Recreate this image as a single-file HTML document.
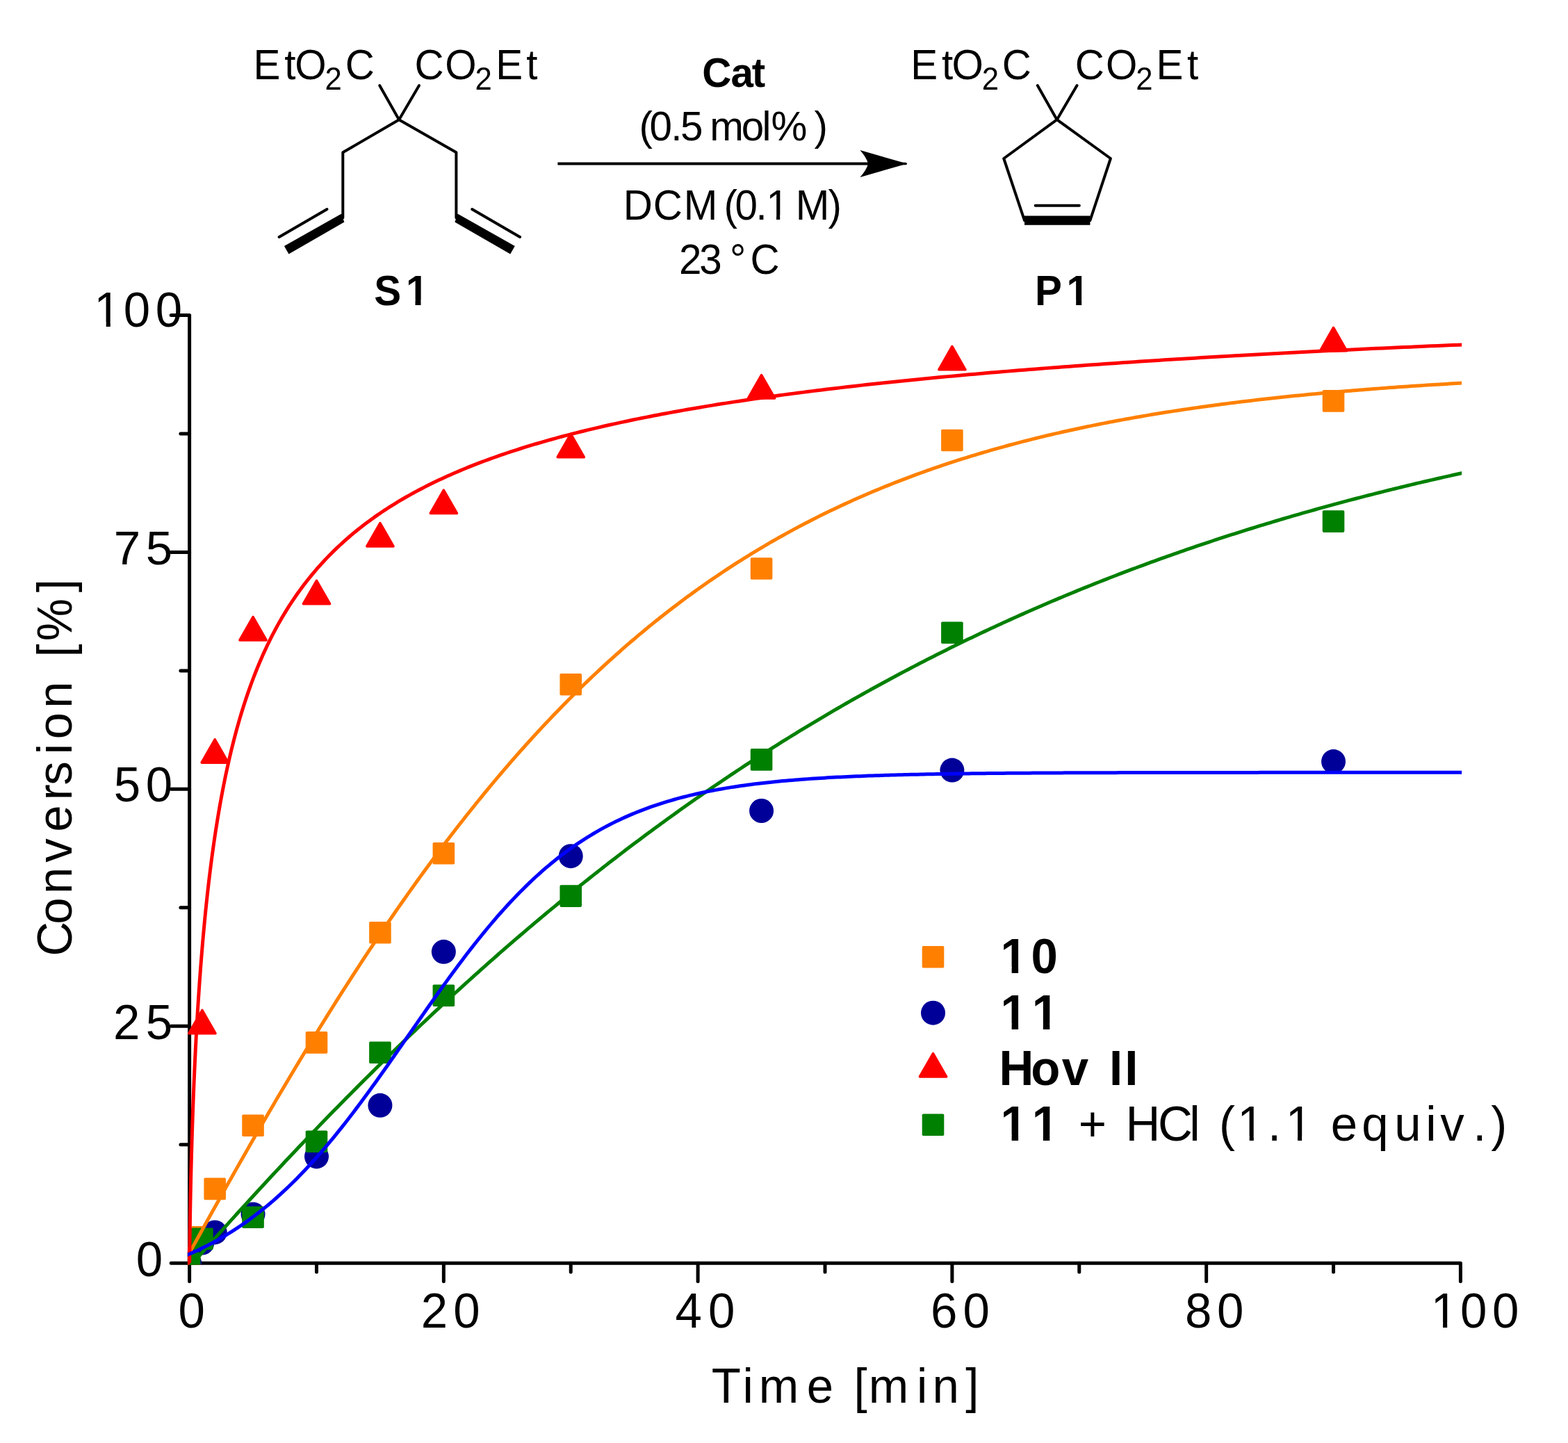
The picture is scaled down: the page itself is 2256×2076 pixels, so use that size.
<!DOCTYPE html>
<html lang="en"><head><meta charset="utf-8"><title>RCM conversion plot</title>
<style>html,body{margin:0;padding:0;background:#fff;overflow:hidden}svg{display:block}</style></head>
<body>
<svg width="2256" height="2076" viewBox="0 0 2256 2076">
<rect width="2256" height="2076" fill="#fff"/>
<defs><clipPath id="c0"><path clip-rule="evenodd" d="M-9000 -9000H9000V9000H-9000ZM1105.32 -5.66H1117.04V3H1105.32ZM1122.2 -5.66H1133.47V3H1122.2Z"/></clipPath><clipPath id="c1"><path clip-rule="evenodd" d="M-9000 -9000H9000V9000H-9000ZM586.06 -7.25H597.5V3H586.06ZM605.5 -7.25H616.2V3H605.5Z"/></clipPath><clipPath id="c2"><path clip-rule="evenodd" d="M-9000 -9000H9000V9000H-9000ZM1536.76 -7.25H1548.2V3H1536.76ZM1556.2 -7.25H1566.9V3H1556.2Z"/></clipPath><clipPath id="c3"><path clip-rule="evenodd" d="M-9000 -9000H9000V9000H-9000ZM139.11 -6.45H152.7V3H139.11ZM158.8 -6.45H171.86V3H158.8Z"/></clipPath><clipPath id="c4"><path clip-rule="evenodd" d="M-9000 -9000H9000V9000H-9000ZM2062.51 -6.45H2076.1V3H2062.51ZM2082.2 -6.45H2095.26V3H2082.2Z"/></clipPath><clipPath id="c5"><path clip-rule="evenodd" d="M-9000 -9000H9000V9000H-9000ZM1442.37 -8.34H1455.63V3H1442.37ZM1465.1 -8.34H1477.48V3H1465.1Z"/></clipPath><clipPath id="c6"><path clip-rule="evenodd" d="M-9000 -9000H9000V9000H-9000ZM1442.37 -8.34H1455.63V3H1442.37ZM1465.1 -8.34H1477.48V3H1465.1ZM1487.57 -8.34H1500.83V3H1487.57ZM1510.3 -8.34H1522.68V3H1510.3Z"/></clipPath><clipPath id="c7"><path clip-rule="evenodd" d="M-9000 -9000H9000V9000H-9000ZM1442.37 -8.34H1455.63V3H1442.37ZM1465.1 -8.34H1477.48V3H1465.1ZM1487.57 -8.34H1500.83V3H1487.57ZM1510.3 -8.34H1522.68V3H1510.3ZM1784.11 -6.45H1797.7V3H1784.11ZM1803.8 -6.45H1816.86V3H1803.8ZM1853.41 -6.45H1867V3H1853.41ZM1873.1 -6.45H1886.16V3H1873.1Z"/></clipPath></defs>
<g fill="none" stroke="#000" stroke-width="4" stroke-linecap="round" stroke-linejoin="round">
<polyline points="546.2,123 574.1,172.2 603,123" />
<polyline points="493.3,313.3 493.3,219.3 574.1,172.2 656.4,219.3 656.4,313.3" />
<polygon points="491.3,307.6 408.92,354.07 415.48,365.53 495.3,319.6" fill="#000" stroke="none"/>
<polygon points="658.4,307.6 740.78,354.07 734.22,365.53 654.4,319.6" fill="#000" stroke="none"/>
<line x1="470.5" y1="301.1" x2="401.6" y2="340.9" stroke-width="4" stroke-linecap="round"/>
<line x1="679.2" y1="301.1" x2="748.1" y2="340.9" stroke-width="4" stroke-linecap="round"/>
<polyline points="1492.8,123 1520.7,172.2 1549.5,123" />
<polyline points="1474,317.1 1444.2,228 1520.7,172.2 1597.9,228 1568.4,317.1" />
<polygon points="1474,323.7 1568.4,323.7 1568.4,310.5 1474,310.5" fill="#000" stroke="none"/>
<line x1="1489.7" y1="295.7" x2="1552.8" y2="295.7" stroke-width="4" stroke-linecap="round"/>
<line x1="802.4" y1="235.5" x2="1290" y2="235.5" stroke-width="4.1" stroke-linecap="butt"/>
<line x1="1285" y1="235.5" x2="1303" y2="235.5" stroke-width="3.7" stroke-linecap="round"/>
<path d="M1305.2 235.5 L1237.4 216.0 Q1247.2 227.2 1249.0 235.5 Q1247.2 243.8 1237.4 255.0 Z" fill="#000" stroke="none"/>
</g>
<g font-family='"Liberation Sans", sans-serif' fill="#000" style="white-space:pre">
<text transform="translate(0 114.4) scale(1 1.04)" x="364.51 409.32 424.33 467.58 496.72" y="0 0 0 13.65 0" font-size="58.33">EtO<tspan font-size="43.75">2</tspan>C</text>
<text transform="translate(0 114.4) scale(1 1.04)" x="596.57 640.33 683.63 713.21 757.22" y="0 0 13.65 0 0" font-size="58.33">CO<tspan font-size="43.75">2</tspan>Et</text>
<text transform="translate(0 114.4) scale(1 1.04)" x="1310.31 1354.97 1369.53 1412.78 1441.77" y="0 0 0 13.65 0" font-size="58.33">EtO<tspan font-size="43.75">2</tspan>C</text>
<text transform="translate(0 114.4) scale(1 1.04)" x="1546.82 1590.93 1634.38 1663.46 1708.12" y="0 0 13.65 0 0" font-size="58.33">CO<tspan font-size="43.75">2</tspan>Et</text>
<text transform="translate(0 124.7) scale(1 1.02)" x="1010.24 1051.49 1081.64" y="0" font-size="58.33" font-weight="bold">Cat</text>
<text transform="translate(0 201.7) scale(1 1.02)" x="919.5 934.58 965.17 979.09 1011.53 1021.34 1066.78 1096.46 1109.62 1161.48 1171.53" y="0" font-size="58.33">(0.5 mol% )</text>
<text transform="translate(0 315.7) scale(1 1.04)" x="896.69 939.82 983.71 1032.29 1041.4 1057.43 1087.57 1102.38 1134.82 1144.76 1191.63" y="0" font-size="58.33" clip-path="url(#c0)">DCM (0.1 M)</text>
<text transform="translate(0 394.4) scale(1 1.04)" x="977.08 1006.15 1038.59 1050 1079.57" y="0" font-size="58.33">23 °C</text>
<text transform="translate(0 439.2) scale(1 1.04)" x="538.15 583.88" y="0" font-size="58.33" font-weight="bold" clip-path="url(#c1)">S1</text>
<text transform="translate(0 439) scale(1 1.04)" x="1489.04 1534.58" y="0" font-size="58.33" font-weight="bold" clip-path="url(#c2)">P1</text>
<text transform="translate(0 470) scale(1 1.025)" x="135.35 177.66 223.71" y="0" font-size="69" clip-path="url(#c3)">100</text>
<text transform="translate(0 811.7) scale(1 1.0)" x="163.78 209.78" y="0" font-size="69">75</text>
<text transform="translate(0 1153.2) scale(1 1.02)" x="163.88 209.86" y="0" font-size="69">50</text>
<text transform="translate(0 1494.9) scale(1 1.01)" x="163.01 209.78" y="0" font-size="69">25</text>
<text transform="translate(0 1836.1) scale(1 1.03)" x="195.76" y="0" font-size="69">0</text>
<text transform="translate(0 1909.8) scale(1 1.03)" x="256.51" y="0" font-size="69">0</text>
<text transform="translate(0 1909.8) scale(1 1.02)" x="605.76 652.36" y="0" font-size="69">20</text>
<text transform="translate(0 1909.8) scale(1 1.02)" x="971.48 1019.01" y="0" font-size="69">40</text>
<text transform="translate(0 1909.8) scale(1 1.03)" x="1339.08 1385.46" y="0" font-size="69">60</text>
<text transform="translate(0 1909.8) scale(1 1.03)" x="1705.11 1751.11" y="0" font-size="69">80</text>
<text transform="translate(0 1909.8) scale(1 1.025)" x="2058.75 2100.96 2147.11" y="0" font-size="69" clip-path="url(#c4)">100</text>
<text transform="translate(0 2018.1) scale(1 1.015)" x="1023.69 1068.6 1091.69 1160.88 1199.25 1228.52 1249.69 1319.1 1341.41 1389.2" y="0" font-size="69">Time [min]</text>
<text transform="translate(103.2 0) rotate(-90) scale(1 1.015)" x="-1375.65 -1329.84 -1286.04 -1240.85 -1196.82 -1151.36 -1129.81 -1085.35 -1063.44 -1018.74 -980.36 -945.63 -922.33 -852.35" y="0" font-size="69">Conversion [%]</text>
<text transform="translate(0 1399.6) scale(1 1.015)" x="1439.53 1483.41" y="0" font-size="69" font-weight="bold" clip-path="url(#c5)">10</text>
<text transform="translate(0 1480.7) scale(1 1.015)" x="1439.53 1484.73" y="0" font-size="69" font-weight="bold" clip-path="url(#c6)">11</text>
<text transform="translate(0 1561.1) scale(1 1.015)" x="1437.45 1483.23 1527.78 1566.15 1595.96 1618.21" y="0" font-size="69" font-weight="bold">Hov II</text>
<text transform="translate(0 1641.3) scale(1 1.015)" x="1439.53 1484.73 1523.1 1551.82 1592.11 1619.42 1665.95 1711.17 1726.5 1753.97 1780.35 1824.01 1849.65 1888.03 1914.88 1959.17 2006.21 2051.35 2072.2 2119.16 2145.15" y="0" font-size="69" font-weight="bold" clip-path="url(#c7)">11<tspan font-weight="normal"> + HCl (1.1 equiv.)</tspan></text>
</g>
<g fill="none" stroke="#000" stroke-width="5" stroke-linecap="round" stroke-linejoin="round">
<polyline points="246.2,453.5 272.6,453.5 272.6,1843.6"/>
<polyline points="246.2,1817.2 2101.4,1817.2 2101.4,1843.6"/>
<line x1="246.2" y1="1476.28" x2="272.6" y2="1476.28"/>
<line x1="246.2" y1="1135.35" x2="272.6" y2="1135.35"/>
<line x1="246.2" y1="794.43" x2="272.6" y2="794.43"/>
<line x1="259.9" y1="1646.74" x2="272.6" y2="1646.74"/>
<line x1="259.9" y1="1305.81" x2="272.6" y2="1305.81"/>
<line x1="259.9" y1="964.89" x2="272.6" y2="964.89"/>
<line x1="259.9" y1="623.96" x2="272.6" y2="623.96"/>
<line x1="638.36" y1="1817.2" x2="638.36" y2="1843.6"/>
<line x1="1004.12" y1="1817.2" x2="1004.12" y2="1843.6"/>
<line x1="1369.88" y1="1817.2" x2="1369.88" y2="1843.6"/>
<line x1="1735.64" y1="1817.2" x2="1735.64" y2="1843.6"/>
<line x1="455.48" y1="1817.2" x2="455.48" y2="1829.9"/>
<line x1="821.24" y1="1817.2" x2="821.24" y2="1829.9"/>
<line x1="1187" y1="1817.2" x2="1187" y2="1829.9"/>
<line x1="1552.76" y1="1817.2" x2="1552.76" y2="1829.9"/>
<line x1="1918.52" y1="1817.2" x2="1918.52" y2="1829.9"/>
</g>
<defs><clipPath id="plot"><rect x="269.9" y="0" width="1833.2" height="1819.7"/></clipPath></defs>
<g clip-path="url(#plot)">
<rect x="256.8" y="1801.4" width="31.6" height="31.6" rx="1.8" fill="#ff8000"/>
<rect x="275.09" y="1764" width="31.6" height="31.6" rx="1.8" fill="#ff8000"/>
<rect x="293.38" y="1694.6" width="31.6" height="31.6" rx="1.8" fill="#ff8000"/>
<rect x="348.24" y="1603.4" width="31.6" height="31.6" rx="1.8" fill="#ff8000"/>
<rect x="439.68" y="1484.1" width="31.6" height="31.6" rx="1.8" fill="#ff8000"/>
<rect x="531.12" y="1326" width="31.6" height="31.6" rx="1.8" fill="#ff8000"/>
<rect x="622.56" y="1211.9" width="31.6" height="31.6" rx="1.8" fill="#ff8000"/>
<rect x="805.44" y="968.9" width="31.6" height="31.6" rx="1.8" fill="#ff8000"/>
<rect x="1079.76" y="802.2" width="31.6" height="31.6" rx="1.8" fill="#ff8000"/>
<rect x="1354.08" y="617.7" width="31.6" height="31.6" rx="1.8" fill="#ff8000"/>
<rect x="1902.72" y="561.1" width="31.6" height="31.6" rx="1.8" fill="#ff8000"/>
<circle cx="272.6" cy="1817.2" r="17.5" fill="#000099"/>
<circle cx="290.89" cy="1788.1" r="17.5" fill="#000099"/>
<circle cx="309.18" cy="1772.9" r="17.5" fill="#000099"/>
<circle cx="364.04" cy="1746.9" r="17.5" fill="#000099"/>
<circle cx="455.48" cy="1663.9" r="17.5" fill="#000099"/>
<circle cx="546.92" cy="1590.3" r="17.5" fill="#000099"/>
<circle cx="638.36" cy="1369.3" r="17.5" fill="#000099"/>
<circle cx="821.24" cy="1231.7" r="17.5" fill="#000099"/>
<circle cx="1095.56" cy="1166.5" r="17.5" fill="#000099"/>
<circle cx="1369.88" cy="1108.1" r="17.5" fill="#000099"/>
<circle cx="1918.52" cy="1095.6" r="17.5" fill="#000099"/>
<polygon points="272.6,1794.4 291.65,1827.7 253.55,1827.7" fill="#ff0000" stroke="#ff0000" stroke-width="3.6" stroke-linejoin="round"/>
<polygon points="290.89,1453.4 309.94,1486.7 271.84,1486.7" fill="#ff0000" stroke="#ff0000" stroke-width="3.6" stroke-linejoin="round"/>
<polygon points="309.18,1063.8 328.23,1097.1 290.13,1097.1" fill="#ff0000" stroke="#ff0000" stroke-width="3.6" stroke-linejoin="round"/>
<polygon points="364.04,887.6 383.09,920.9 344.99,920.9" fill="#ff0000" stroke="#ff0000" stroke-width="3.6" stroke-linejoin="round"/>
<polygon points="455.48,835.4 474.53,868.7 436.43,868.7" fill="#ff0000" stroke="#ff0000" stroke-width="3.6" stroke-linejoin="round"/>
<polygon points="546.92,752.6 565.97,785.9 527.87,785.9" fill="#ff0000" stroke="#ff0000" stroke-width="3.6" stroke-linejoin="round"/>
<polygon points="638.36,705.2 657.41,738.5 619.31,738.5" fill="#ff0000" stroke="#ff0000" stroke-width="3.6" stroke-linejoin="round"/>
<polygon points="821.24,624.3 840.29,657.6 802.19,657.6" fill="#ff0000" stroke="#ff0000" stroke-width="3.6" stroke-linejoin="round"/>
<polygon points="1095.56,539.7 1114.61,573 1076.51,573" fill="#ff0000" stroke="#ff0000" stroke-width="3.6" stroke-linejoin="round"/>
<polygon points="1369.88,498.5 1388.93,531.8 1350.83,531.8" fill="#ff0000" stroke="#ff0000" stroke-width="3.6" stroke-linejoin="round"/>
<polygon points="1918.52,471.5 1937.57,504.8 1899.47,504.8" fill="#ff0000" stroke="#ff0000" stroke-width="3.6" stroke-linejoin="round"/>
<rect x="256.8" y="1801.4" width="31.6" height="31.6" rx="1.8" fill="#008000"/>
<rect x="275.09" y="1766.5" width="31.6" height="31.6" rx="1.8" fill="#008000"/>
<rect x="348.24" y="1735.4" width="31.6" height="31.6" rx="1.8" fill="#008000"/>
<rect x="439.68" y="1626.4" width="31.6" height="31.6" rx="1.8" fill="#008000"/>
<rect x="531.12" y="1498.4" width="31.6" height="31.6" rx="1.8" fill="#008000"/>
<rect x="622.56" y="1416.5" width="31.6" height="31.6" rx="1.8" fill="#008000"/>
<rect x="805.44" y="1273.3" width="31.6" height="31.6" rx="1.8" fill="#008000"/>
<rect x="1079.76" y="1077.1" width="31.6" height="31.6" rx="1.8" fill="#008000"/>
<rect x="1354.08" y="894.4" width="31.6" height="31.6" rx="1.8" fill="#008000"/>
<rect x="1902.72" y="734.3" width="31.6" height="31.6" rx="1.8" fill="#008000"/>
<path d="M268.03 1810.87 L272.64 1802.49 L277.25 1794.12 L281.87 1785.77 L286.48 1777.43 L291.09 1769.1 L295.71 1760.79 L300.32 1752.5 L304.93 1744.22 L309.55 1735.96 L314.16 1727.71 L318.77 1719.49 L323.39 1711.28 L328 1703.09 L332.61 1694.92 L337.23 1686.77 L341.84 1678.64 L346.45 1670.53 L351.07 1662.44 L355.68 1654.37 L360.29 1646.33 L364.91 1638.3 L369.52 1630.3 L374.13 1622.33 L378.75 1614.38 L383.36 1606.45 L387.97 1598.54 L392.59 1590.67 L397.2 1582.81 L401.81 1574.99 L406.43 1567.18 L411.04 1559.41 L415.65 1551.66 L420.27 1543.94 L424.88 1536.25 L429.49 1528.59 L434.11 1520.95 L438.72 1513.34 L443.33 1505.77 L447.94 1498.22 L452.56 1490.7 L457.17 1483.21 L461.78 1475.75 L466.4 1468.33 L471.01 1460.93 L475.62 1453.57 L480.24 1446.23 L484.85 1438.93 L489.46 1431.67 L494.08 1424.43 L498.69 1417.23 L503.3 1410.06 L507.92 1402.92 L512.53 1395.82 L517.14 1388.75 L521.76 1381.71 L526.37 1374.71 L530.98 1367.74 L535.6 1360.81 L540.21 1353.91 L544.82 1347.05 L549.44 1340.22 L554.05 1333.43 L558.66 1326.68 L563.28 1319.96 L567.89 1313.27 L572.5 1306.62 L577.12 1300.01 L581.73 1293.44 L586.34 1286.9 L590.96 1280.39 L595.57 1273.93 L600.18 1267.5 L604.8 1261.11 L609.41 1254.75 L614.02 1248.44 L618.64 1242.16 L623.25 1235.91 L627.86 1229.71 L632.47 1223.54 L637.09 1217.41 L641.7 1211.32 L646.31 1205.26 L650.93 1199.25 L655.54 1193.27 L660.15 1187.33 L664.77 1181.42 L669.38 1175.56 L673.99 1169.73 L678.61 1163.94 L683.22 1158.19 L687.83 1152.48 L692.45 1146.8 L697.06 1141.16 L701.67 1135.57 L706.29 1130 L710.9 1124.48 L715.51 1119 L720.13 1113.55 L724.74 1108.14 L729.35 1102.77 L733.97 1097.43 L738.58 1092.14 L743.19 1086.88 L747.81 1081.66 L752.42 1076.48 L757.03 1071.33 L761.65 1066.22 L766.26 1061.15 L770.87 1056.12 L775.49 1051.12 L780.1 1046.17 L784.71 1041.24 L789.33 1036.36 L793.94 1031.51 L798.55 1026.7 L803.17 1021.93 L807.78 1017.19 L812.39 1012.49 L817 1007.82 L821.62 1003.2 L826.23 998.6 L830.84 994.05 L835.46 989.53 L840.07 985.04 L844.68 980.6 L849.3 976.18 L853.91 971.81 L858.52 967.46 L863.14 963.16 L867.75 958.89 L872.36 954.65 L876.98 950.45 L881.59 946.28 L886.2 942.15 L890.82 938.05 L895.43 933.98 L900.04 929.95 L904.66 925.95 L909.27 921.99 L913.88 918.06 L918.5 914.16 L923.11 910.3 L927.72 906.47 L932.34 902.67 L936.95 898.91 L941.56 895.17 L946.18 891.47 L950.79 887.81 L955.4 884.17 L960.02 880.57 L964.63 876.99 L969.24 873.45 L973.86 869.94 L978.47 866.46 L983.08 863.02 L987.7 859.6 L992.31 856.21 L996.92 852.86 L1001.53 849.53 L1006.15 846.23 L1010.76 842.97 L1015.37 839.73 L1019.99 836.52 L1024.6 833.35 L1029.21 830.2 L1033.83 827.08 L1038.44 823.99 L1043.05 820.92 L1047.67 817.89 L1052.28 814.88 L1056.89 811.9 L1061.51 808.95 L1066.12 806.03 L1070.73 803.13 L1075.35 800.26 L1079.96 797.42 L1084.57 794.61 L1089.19 791.82 L1093.8 789.06 L1098.41 786.32 L1103.03 783.61 L1107.64 780.93 L1112.25 778.27 L1116.87 775.64 L1121.48 773.03 L1126.09 770.45 L1130.71 767.89 L1135.32 765.35 L1139.93 762.85 L1144.55 760.36 L1149.16 757.9 L1153.77 755.47 L1158.39 753.05 L1163 750.66 L1167.61 748.3 L1172.23 745.96 L1176.84 743.64 L1181.45 741.34 L1186.06 739.07 L1190.68 736.81 L1195.29 734.59 L1199.9 732.38 L1204.52 730.19 L1209.13 728.03 L1213.74 725.89 L1218.36 723.77 L1222.97 721.67 L1227.58 719.59 L1232.2 717.53 L1236.81 715.5 L1241.42 713.48 L1246.04 711.48 L1250.65 709.51 L1255.26 707.55 L1259.88 705.61 L1264.49 703.7 L1269.1 701.8 L1273.72 699.92 L1278.33 698.06 L1282.94 696.23 L1287.56 694.4 L1292.17 692.6 L1296.78 690.82 L1301.4 689.05 L1306.01 687.31 L1310.62 685.58 L1315.24 683.86 L1319.85 682.17 L1324.46 680.49 L1329.08 678.83 L1333.69 677.19 L1338.3 675.57 L1342.92 673.96 L1347.53 672.37 L1352.14 670.79 L1356.76 669.23 L1361.37 667.69 L1365.98 666.16 L1370.6 664.65 L1375.21 663.16 L1379.82 661.68 L1384.43 660.22 L1389.05 658.77 L1393.66 657.34 L1398.27 655.92 L1402.89 654.52 L1407.5 653.13 L1412.11 651.75 L1416.73 650.4 L1421.34 649.05 L1425.95 647.72 L1430.57 646.4 L1435.18 645.1 L1439.79 643.81 L1444.41 642.54 L1449.02 641.28 L1453.63 640.03 L1458.25 638.79 L1462.86 637.57 L1467.47 636.36 L1472.09 635.17 L1476.7 633.99 L1481.31 632.82 L1485.93 631.66 L1490.54 630.51 L1495.15 629.38 L1499.77 628.26 L1504.38 627.15 L1508.99 626.05 L1513.61 624.97 L1518.22 623.89 L1522.83 622.83 L1527.45 621.78 L1532.06 620.74 L1536.67 619.72 L1541.29 618.7 L1545.9 617.69 L1550.51 616.7 L1555.13 615.71 L1559.74 614.74 L1564.35 613.78 L1568.96 612.83 L1573.58 611.88 L1578.19 610.95 L1582.8 610.03 L1587.42 609.12 L1592.03 608.22 L1596.64 607.32 L1601.26 606.44 L1605.87 605.57 L1610.48 604.71 L1615.1 603.85 L1619.71 603.01 L1624.32 602.17 L1628.94 601.35 L1633.55 600.53 L1638.16 599.72 L1642.78 598.92 L1647.39 598.13 L1652 597.35 L1656.62 596.58 L1661.23 595.81 L1665.84 595.06 L1670.46 594.31 L1675.07 593.57 L1679.68 592.84 L1684.3 592.12 L1688.91 591.4 L1693.52 590.69 L1698.14 589.99 L1702.75 589.3 L1707.36 588.62 L1711.98 587.94 L1716.59 587.27 L1721.2 586.61 L1725.82 585.95 L1730.43 585.31 L1735.04 584.67 L1739.66 584.03 L1744.27 583.41 L1748.88 582.79 L1753.49 582.17 L1758.11 581.57 L1762.72 580.97 L1767.33 580.38 L1771.95 579.79 L1776.56 579.21 L1781.17 578.64 L1785.79 578.07 L1790.4 577.51 L1795.01 576.96 L1799.63 576.41 L1804.24 575.87 L1808.85 575.34 L1813.47 574.81 L1818.08 574.28 L1822.69 573.76 L1827.31 573.25 L1831.92 572.75 L1836.53 572.25 L1841.15 571.75 L1845.76 571.26 L1850.37 570.78 L1854.99 570.3 L1859.6 569.83 L1864.21 569.36 L1868.83 568.89 L1873.44 568.44 L1878.05 567.98 L1882.67 567.54 L1887.28 567.1 L1891.89 566.66 L1896.51 566.23 L1901.12 565.8 L1905.73 565.38 L1910.35 564.96 L1914.96 564.54 L1919.57 564.13 L1924.19 563.73 L1928.8 563.33 L1933.41 562.94 L1938.02 562.55 L1942.64 562.16 L1947.25 561.78 L1951.86 561.4 L1956.48 561.03 L1961.09 560.66 L1965.7 560.29 L1970.32 559.93 L1974.93 559.57 L1979.54 559.22 L1984.16 558.87 L1988.77 558.53 L1993.38 558.19 L1998 557.85 L2002.61 557.52 L2007.22 557.19 L2011.84 556.86 L2016.45 556.54 L2021.06 556.22 L2025.68 555.91 L2030.29 555.59 L2034.9 555.29 L2039.52 554.98 L2044.13 554.68 L2048.74 554.38 L2053.36 554.09 L2057.97 553.8 L2062.58 553.51 L2067.2 553.23 L2071.81 552.95 L2076.42 552.67 L2081.04 552.39 L2085.65 552.12 L2090.26 551.85 L2094.88 551.59 L2099.49 551.32 L2104.1 551.06 L2108.72 550.81" fill="none" stroke="#ff8000" stroke-width="5" stroke-linejoin="round" stroke-linecap="butt"/>
<path d="M272.6 1836.62 L272.6 1834.57 L272.62 1830.85 L272.64 1826.07 L272.67 1820.45 L272.72 1814.14 L272.78 1807.23 L272.85 1799.79 L272.94 1791.89 L273.04 1783.58 L273.15 1774.9 L273.28 1765.9 L273.42 1756.6 L273.58 1747.03 L273.76 1737.24 L273.95 1727.23 L274.15 1717.05 L274.37 1706.7 L274.61 1696.2 L274.86 1685.59 L275.14 1674.87 L275.42 1664.06 L275.73 1653.17 L276.05 1642.23 L276.39 1631.24 L276.74 1620.21 L277.12 1609.16 L277.51 1598.09 L277.92 1587.02 L278.34 1575.96 L278.79 1564.91 L279.25 1553.88 L279.73 1542.89 L280.23 1531.92 L280.75 1521 L281.28 1510.13 L281.84 1499.31 L282.41 1488.54 L283.01 1477.84 L283.62 1467.21 L284.25 1456.65 L284.9 1446.16 L285.57 1435.75 L286.26 1425.41 L286.97 1415.16 L287.69 1405 L288.44 1394.92 L289.21 1384.93 L290 1375.03 L290.81 1365.22 L291.63 1355.51 L292.48 1345.89 L293.35 1336.36 L294.24 1326.93 L295.14 1317.6 L296.07 1308.37 L297.02 1299.23 L297.99 1290.19 L298.98 1281.25 L299.99 1272.4 L301.02 1263.66 L302.08 1255.01 L303.15 1246.46 L304.25 1238.01 L305.36 1229.65 L306.5 1221.39 L307.66 1213.23 L308.83 1205.16 L310.04 1197.19 L311.26 1189.31 L312.5 1181.53 L313.76 1173.84 L315.05 1166.24 L316.36 1158.74 L317.69 1151.32 L319.04 1144 L320.41 1136.76 L321.81 1129.61 L323.23 1122.55 L324.66 1115.58 L326.13 1108.7 L327.61 1101.89 L329.11 1095.18 L330.64 1088.54 L332.19 1081.99 L333.76 1075.52 L335.36 1069.13 L336.97 1062.81 L338.61 1056.58 L340.27 1050.42 L341.96 1044.34 L343.66 1038.34 L345.39 1032.41 L347.15 1026.55 L348.92 1020.77 L350.72 1015.06 L352.54 1009.42 L354.38 1003.85 L356.25 998.34 L358.14 992.91 L360.05 987.54 L361.99 982.24 L363.94 977 L365.93 971.83 L367.93 966.73 L369.96 961.68 L372.01 956.7 L374.09 951.77 L376.18 946.91 L378.31 942.11 L380.45 937.36 L382.62 932.68 L384.81 928.04 L387.03 923.47 L389.27 918.95 L391.53 914.49 L393.82 910.07 L396.13 905.72 L398.46 901.41 L400.82 897.15 L403.2 892.95 L405.61 888.8 L408.04 884.69 L410.5 880.63 L412.97 876.63 L415.48 872.66 L418 868.75 L420.55 864.88 L423.13 861.05 L425.73 857.28 L428.35 853.54 L431 849.85 L433.67 846.2 L436.37 842.59 L439.09 839.02 L441.84 835.5 L444.61 832.01 L447.4 828.57 L450.22 825.16 L453.06 821.79 L455.93 818.46 L458.83 815.17 L461.74 811.92 L464.69 808.7 L467.65 805.52 L470.65 802.37 L473.66 799.26 L476.71 796.18 L479.77 793.14 L482.87 790.12 L485.98 787.15 L489.13 784.2 L492.29 781.29 L495.48 778.41 L498.7 775.56 L501.95 772.74 L505.21 769.95 L508.51 767.19 L511.82 764.47 L515.17 761.77 L518.54 759.09 L521.93 756.45 L525.35 753.84 L528.8 751.25 L532.27 748.69 L535.76 746.16 L539.28 743.65 L542.83 741.17 L546.4 738.72 L550 736.29 L553.63 733.88 L557.28 731.5 L560.95 729.15 L564.65 726.82 L568.38 724.51 L572.13 722.23 L575.91 719.97 L579.71 717.73 L583.54 715.51 L587.4 713.32 L591.28 711.15 L595.19 709 L599.13 706.87 L603.09 704.77 L607.07 702.68 L611.08 700.62 L615.12 698.57 L619.19 696.55 L623.28 694.54 L627.39 692.56 L631.54 690.59 L635.71 688.64 L639.9 686.71 L644.12 684.8 L648.37 682.91 L652.65 681.04 L656.95 679.18 L661.27 677.35 L665.63 675.53 L670.01 673.72 L674.41 671.94 L678.85 670.17 L683.31 668.41 L687.79 666.68 L692.31 664.96 L696.85 663.25 L701.41 661.56 L706.01 659.89 L710.62 658.23 L715.27 656.59 L719.94 654.96 L724.64 653.35 L729.37 651.75 L734.12 650.17 L738.9 648.6 L743.71 647.04 L748.55 645.5 L753.41 643.97 L758.3 642.46 L763.21 640.96 L768.15 639.47 L773.12 638 L778.12 636.53 L783.14 635.09 L788.19 633.65 L793.27 632.23 L798.37 630.82 L803.5 629.42 L808.66 628.03 L813.85 626.66 L819.06 625.3 L824.3 623.94 L829.57 622.61 L834.87 621.28 L840.19 619.96 L845.54 618.66 L850.92 617.36 L856.32 616.08 L861.75 614.81 L867.21 613.54 L872.7 612.29 L878.22 611.05 L883.76 609.82 L889.33 608.6 L894.92 607.39 L900.55 606.19 L906.2 605 L911.88 603.82 L917.59 602.65 L923.33 601.48 L929.09 600.33 L934.88 599.19 L940.7 598.06 L946.55 596.93 L952.42 595.82 L958.32 594.71 L964.25 593.61 L970.21 592.52 L976.2 591.44 L982.21 590.37 L988.25 589.31 L994.32 588.25 L1000.42 587.2 L1006.54 586.17 L1012.7 585.14 L1018.88 584.11 L1025.09 583.1 L1031.32 582.09 L1037.59 581.09 L1043.88 580.1 L1050.21 579.12 L1056.56 578.14 L1062.93 577.17 L1069.34 576.21 L1075.78 575.26 L1082.24 574.31 L1088.73 573.37 L1095.25 572.44 L1101.8 571.52 L1108.37 570.6 L1114.98 569.69 L1121.61 568.78 L1128.27 567.88 L1134.96 566.99 L1141.68 566.11 L1148.43 565.23 L1155.2 564.36 L1162.01 563.49 L1168.84 562.63 L1175.7 561.78 L1182.59 560.93 L1189.5 560.09 L1196.45 559.26 L1203.43 558.43 L1210.43 557.61 L1217.46 556.79 L1224.52 555.98 L1231.61 555.18 L1238.73 554.38 L1245.88 553.58 L1253.05 552.8 L1260.26 552.01 L1267.49 551.24 L1274.75 550.47 L1282.04 549.7 L1289.36 548.94 L1296.71 548.19 L1304.09 547.44 L1311.49 546.69 L1318.93 545.95 L1326.39 545.22 L1333.89 544.49 L1341.41 543.76 L1348.96 543.04 L1356.54 542.33 L1364.15 541.62 L1371.79 540.92 L1379.45 540.22 L1387.15 539.52 L1394.87 538.83 L1402.63 538.14 L1410.41 537.46 L1418.22 536.79 L1426.07 536.11 L1433.94 535.45 L1441.84 534.78 L1449.77 534.13 L1457.73 533.47 L1465.71 532.82 L1473.73 532.18 L1481.78 531.53 L1489.85 530.9 L1497.96 530.26 L1506.09 529.63 L1514.26 529.01 L1522.45 528.39 L1530.67 527.77 L1538.93 527.16 L1547.21 526.55 L1555.52 525.95 L1563.86 525.34 L1572.23 524.75 L1580.63 524.15 L1589.06 523.56 L1597.52 522.98 L1606 522.4 L1614.52 521.82 L1623.07 521.24 L1631.65 520.67 L1640.25 520.11 L1648.89 519.54 L1657.55 518.98 L1666.25 518.42 L1674.97 517.87 L1683.73 517.32 L1692.51 516.77 L1701.33 516.23 L1710.17 515.69 L1719.05 515.15 L1727.95 514.62 L1736.88 514.09 L1745.85 513.56 L1754.84 513.04 L1763.86 512.52 L1772.92 512 L1782 511.49 L1791.11 510.98 L1800.25 510.47 L1809.43 509.97 L1818.63 509.46 L1827.86 508.97 L1837.12 508.47 L1846.42 507.98 L1855.74 507.49 L1865.09 507 L1874.47 506.52 L1883.89 506.03 L1893.33 505.56 L1902.8 505.08 L1912.31 504.61 L1921.84 504.14 L1931.4 503.67 L1941 503.21 L1950.62 502.74 L1960.27 502.29 L1969.96 501.83 L1979.67 501.37 L1989.42 500.92 L1999.19 500.48 L2009 500.03 L2018.83 499.59 L2028.7 499.14 L2038.59 498.71 L2048.52 498.27 L2058.48 497.84 L2068.46 497.41 L2078.48 496.98 L2088.53 496.55 L2098.61 496.13 L2108.72 495.71" fill="none" stroke="#ff0000" stroke-width="5" stroke-linejoin="round" stroke-linecap="butt"/>
<path d="M268.03 1827.98 L272.64 1822.73 L277.25 1817.49 L281.87 1812.26 L286.48 1807.04 L291.09 1801.83 L295.71 1796.63 L300.32 1791.45 L304.93 1786.27 L309.55 1781.11 L314.16 1775.95 L318.77 1770.81 L323.39 1765.68 L328 1760.56 L332.61 1755.45 L337.23 1750.35 L341.84 1745.26 L346.45 1740.18 L351.07 1735.12 L355.68 1730.06 L360.29 1725.02 L364.91 1719.99 L369.52 1714.97 L374.13 1709.97 L378.75 1704.97 L383.36 1699.99 L387.97 1695.01 L392.59 1690.05 L397.2 1685.11 L401.81 1680.17 L406.43 1675.24 L411.04 1670.33 L415.65 1665.43 L420.27 1660.54 L424.88 1655.67 L429.49 1650.8 L434.11 1645.95 L438.72 1641.11 L443.33 1636.28 L447.94 1631.47 L452.56 1626.66 L457.17 1621.87 L461.78 1617.1 L466.4 1612.33 L471.01 1607.58 L475.62 1602.84 L480.24 1598.11 L484.85 1593.39 L489.46 1588.69 L494.08 1584 L498.69 1579.32 L503.3 1574.66 L507.92 1570.01 L512.53 1565.37 L517.14 1560.74 L521.76 1556.13 L526.37 1551.53 L530.98 1546.94 L535.6 1542.36 L540.21 1537.8 L544.82 1533.25 L549.44 1528.72 L554.05 1524.2 L558.66 1519.69 L563.28 1515.19 L567.89 1510.71 L572.5 1506.24 L577.12 1501.78 L581.73 1497.33 L586.34 1492.9 L590.96 1488.49 L595.57 1484.08 L600.18 1479.69 L604.8 1475.31 L609.41 1470.95 L614.02 1466.6 L618.64 1462.26 L623.25 1457.93 L627.86 1453.62 L632.47 1449.32 L637.09 1445.04 L641.7 1440.77 L646.31 1436.51 L650.93 1432.26 L655.54 1428.03 L660.15 1423.81 L664.77 1419.61 L669.38 1415.42 L673.99 1411.24 L678.61 1407.08 L683.22 1402.93 L687.83 1398.79 L692.45 1394.67 L697.06 1390.56 L701.67 1386.46 L706.29 1382.38 L710.9 1378.31 L715.51 1374.25 L720.13 1370.21 L724.74 1366.18 L729.35 1362.17 L733.97 1358.16 L738.58 1354.18 L743.19 1350.2 L747.81 1346.24 L752.42 1342.29 L757.03 1338.36 L761.65 1334.44 L766.26 1330.53 L770.87 1326.64 L775.49 1322.76 L780.1 1318.89 L784.71 1315.04 L789.33 1311.2 L793.94 1307.37 L798.55 1303.56 L803.17 1299.76 L807.78 1295.98 L812.39 1292.2 L817 1288.45 L821.62 1284.7 L826.23 1280.97 L830.84 1277.25 L835.46 1273.55 L840.07 1269.86 L844.68 1266.18 L849.3 1262.51 L853.91 1258.86 L858.52 1255.23 L863.14 1251.6 L867.75 1247.99 L872.36 1244.4 L876.98 1240.81 L881.59 1237.24 L886.2 1233.68 L890.82 1230.14 L895.43 1226.61 L900.04 1223.09 L904.66 1219.59 L909.27 1216.1 L913.88 1212.62 L918.5 1209.16 L923.11 1205.71 L927.72 1202.27 L932.34 1198.85 L936.95 1195.44 L941.56 1192.04 L946.18 1188.66 L950.79 1185.29 L955.4 1181.93 L960.02 1178.58 L964.63 1175.25 L969.24 1171.93 L973.86 1168.63 L978.47 1165.33 L983.08 1162.05 L987.7 1158.79 L992.31 1155.53 L996.92 1152.29 L1001.53 1149.07 L1006.15 1145.85 L1010.76 1142.65 L1015.37 1139.46 L1019.99 1136.28 L1024.6 1133.12 L1029.21 1129.97 L1033.83 1126.83 L1038.44 1123.71 L1043.05 1120.6 L1047.67 1117.5 L1052.28 1114.41 L1056.89 1111.34 L1061.51 1108.28 L1066.12 1105.23 L1070.73 1102.19 L1075.35 1099.17 L1079.96 1096.16 L1084.57 1093.16 L1089.19 1090.17 L1093.8 1087.2 L1098.41 1084.24 L1103.03 1081.29 L1107.64 1078.35 L1112.25 1075.43 L1116.87 1072.52 L1121.48 1069.62 L1126.09 1066.73 L1130.71 1063.86 L1135.32 1061 L1139.93 1058.15 L1144.55 1055.31 L1149.16 1052.48 L1153.77 1049.67 L1158.39 1046.87 L1163 1044.08 L1167.61 1041.3 L1172.23 1038.54 L1176.84 1035.79 L1181.45 1033.04 L1186.06 1030.32 L1190.68 1027.6 L1195.29 1024.89 L1199.9 1022.2 L1204.52 1019.52 L1209.13 1016.85 L1213.74 1014.19 L1218.36 1011.54 L1222.97 1008.91 L1227.58 1006.28 L1232.2 1003.67 L1236.81 1001.07 L1241.42 998.48 L1246.04 995.91 L1250.65 993.34 L1255.26 990.79 L1259.88 988.25 L1264.49 985.71 L1269.1 983.2 L1273.72 980.69 L1278.33 978.19 L1282.94 975.7 L1287.56 973.23 L1292.17 970.77 L1296.78 968.31 L1301.4 965.87 L1306.01 963.44 L1310.62 961.02 L1315.24 958.62 L1319.85 956.22 L1324.46 953.83 L1329.08 951.46 L1333.69 949.1 L1338.3 946.74 L1342.92 944.4 L1347.53 942.07 L1352.14 939.75 L1356.76 937.44 L1361.37 935.14 L1365.98 932.85 L1370.6 930.57 L1375.21 928.31 L1379.82 926.05 L1384.43 923.8 L1389.05 921.57 L1393.66 919.34 L1398.27 917.13 L1402.89 914.93 L1407.5 912.73 L1412.11 910.55 L1416.73 908.37 L1421.34 906.21 L1425.95 904.06 L1430.57 901.92 L1435.18 899.78 L1439.79 897.66 L1444.41 895.55 L1449.02 893.45 L1453.63 891.36 L1458.25 889.27 L1462.86 887.2 L1467.47 885.14 L1472.09 883.09 L1476.7 881.05 L1481.31 879.01 L1485.93 876.99 L1490.54 874.98 L1495.15 872.97 L1499.77 870.98 L1504.38 869 L1508.99 867.02 L1513.61 865.06 L1518.22 863.1 L1522.83 861.16 L1527.45 859.22 L1532.06 857.29 L1536.67 855.38 L1541.29 853.47 L1545.9 851.57 L1550.51 849.68 L1555.13 847.8 L1559.74 845.93 L1564.35 844.07 L1568.96 842.21 L1573.58 840.37 L1578.19 838.54 L1582.8 836.71 L1587.42 834.89 L1592.03 833.09 L1596.64 831.29 L1601.26 829.5 L1605.87 827.72 L1610.48 825.95 L1615.1 824.18 L1619.71 822.43 L1624.32 820.68 L1628.94 818.95 L1633.55 817.22 L1638.16 815.5 L1642.78 813.79 L1647.39 812.09 L1652 810.39 L1656.62 808.71 L1661.23 807.03 L1665.84 805.36 L1670.46 803.7 L1675.07 802.05 L1679.68 800.41 L1684.3 798.77 L1688.91 797.14 L1693.52 795.53 L1698.14 793.92 L1702.75 792.31 L1707.36 790.72 L1711.98 789.13 L1716.59 787.55 L1721.2 785.98 L1725.82 784.42 L1730.43 782.87 L1735.04 781.32 L1739.66 779.78 L1744.27 778.25 L1748.88 776.73 L1753.49 775.22 L1758.11 773.71 L1762.72 772.21 L1767.33 770.72 L1771.95 769.24 L1776.56 767.76 L1781.17 766.29 L1785.79 764.83 L1790.4 763.38 L1795.01 761.93 L1799.63 760.49 L1804.24 759.06 L1808.85 757.64 L1813.47 756.22 L1818.08 754.81 L1822.69 753.41 L1827.31 752.02 L1831.92 750.63 L1836.53 749.25 L1841.15 747.88 L1845.76 746.51 L1850.37 745.15 L1854.99 743.8 L1859.6 742.46 L1864.21 741.12 L1868.83 739.79 L1873.44 738.46 L1878.05 737.15 L1882.67 735.84 L1887.28 734.54 L1891.89 733.24 L1896.51 731.95 L1901.12 730.67 L1905.73 729.39 L1910.35 728.12 L1914.96 726.86 L1919.57 725.61 L1924.19 724.36 L1928.8 723.11 L1933.41 721.88 L1938.02 720.65 L1942.64 719.43 L1947.25 718.21 L1951.86 717 L1956.48 715.8 L1961.09 714.6 L1965.7 713.41 L1970.32 712.22 L1974.93 711.05 L1979.54 709.87 L1984.16 708.71 L1988.77 707.55 L1993.38 706.39 L1998 705.25 L2002.61 704.11 L2007.22 702.97 L2011.84 701.84 L2016.45 700.72 L2021.06 699.6 L2025.68 698.49 L2030.29 697.39 L2034.9 696.29 L2039.52 695.19 L2044.13 694.11 L2048.74 693.03 L2053.36 691.95 L2057.97 690.88 L2062.58 689.82 L2067.2 688.76 L2071.81 687.71 L2076.42 686.66 L2081.04 685.62 L2085.65 684.58 L2090.26 683.55 L2094.88 682.53 L2099.49 681.51 L2104.1 680.49 L2108.72 679.49" fill="none" stroke="#008000" stroke-width="5" stroke-linejoin="round" stroke-linecap="butt"/>
<path d="M268.03 1806.05 L272.64 1804.06 L277.25 1802.02 L281.87 1799.91 L286.48 1797.74 L291.09 1795.51 L295.71 1793.22 L300.32 1790.85 L304.93 1788.42 L309.55 1785.92 L314.16 1783.36 L318.77 1780.72 L323.39 1778 L328 1775.22 L332.61 1772.35 L337.23 1769.42 L341.84 1766.4 L346.45 1763.3 L351.07 1760.13 L355.68 1756.87 L360.29 1753.53 L364.91 1750.11 L369.52 1746.6 L374.13 1743.01 L378.75 1739.33 L383.36 1735.57 L387.97 1731.72 L392.59 1727.78 L397.2 1723.75 L401.81 1719.63 L406.43 1715.42 L411.04 1711.12 L415.65 1706.74 L420.27 1702.26 L424.88 1697.69 L429.49 1693.04 L434.11 1688.29 L438.72 1683.46 L443.33 1678.53 L447.94 1673.52 L452.56 1668.43 L457.17 1663.24 L461.78 1657.97 L466.4 1652.62 L471.01 1647.19 L475.62 1641.67 L480.24 1636.08 L484.85 1630.41 L489.46 1624.66 L494.08 1618.84 L498.69 1612.95 L503.3 1606.99 L507.92 1600.97 L512.53 1594.88 L517.14 1588.73 L521.76 1582.52 L526.37 1576.26 L530.98 1569.95 L535.6 1563.59 L540.21 1557.19 L544.82 1550.74 L549.44 1544.26 L554.05 1537.75 L558.66 1531.2 L563.28 1524.63 L567.89 1518.04 L572.5 1511.43 L577.12 1504.81 L581.73 1498.17 L586.34 1491.53 L590.96 1484.89 L595.57 1478.25 L600.18 1471.62 L604.8 1465 L609.41 1458.39 L614.02 1451.8 L618.64 1445.24 L623.25 1438.7 L627.86 1432.19 L632.47 1425.72 L637.09 1419.28 L641.7 1412.89 L646.31 1406.54 L650.93 1400.24 L655.54 1393.99 L660.15 1387.8 L664.77 1381.66 L669.38 1375.59 L673.99 1369.58 L678.61 1363.63 L683.22 1357.76 L687.83 1351.95 L692.45 1346.22 L697.06 1340.57 L701.67 1334.99 L706.29 1329.49 L710.9 1324.08 L715.51 1318.74 L720.13 1313.49 L724.74 1308.33 L729.35 1303.25 L733.97 1298.25 L738.58 1293.35 L743.19 1288.53 L747.81 1283.81 L752.42 1279.17 L757.03 1274.62 L761.65 1270.17 L766.26 1265.8 L770.87 1261.52 L775.49 1257.33 L780.1 1253.23 L784.71 1249.22 L789.33 1245.3 L793.94 1241.47 L798.55 1237.72 L803.17 1234.06 L807.78 1230.49 L812.39 1227 L817 1223.6 L821.62 1220.28 L826.23 1217.04 L830.84 1213.88 L835.46 1210.8 L840.07 1207.8 L844.68 1204.88 L849.3 1202.03 L853.91 1199.26 L858.52 1196.57 L863.14 1193.94 L867.75 1191.39 L872.36 1188.91 L876.98 1186.49 L881.59 1184.14 L886.2 1181.86 L890.82 1179.64 L895.43 1177.49 L900.04 1175.39 L904.66 1173.36 L909.27 1171.39 L913.88 1169.47 L918.5 1167.61 L923.11 1165.8 L927.72 1164.05 L932.34 1162.35 L936.95 1160.7 L941.56 1159.1 L946.18 1157.55 L950.79 1156.05 L955.4 1154.59 L960.02 1153.18 L964.63 1151.81 L969.24 1150.48 L973.86 1149.2 L978.47 1147.95 L983.08 1146.74 L987.7 1145.57 L992.31 1144.44 L996.92 1143.34 L1001.53 1142.28 L1006.15 1141.25 L1010.76 1140.26 L1015.37 1139.3 L1019.99 1138.36 L1024.6 1137.46 L1029.21 1136.59 L1033.83 1135.74 L1038.44 1134.92 L1043.05 1134.13 L1047.67 1133.36 L1052.28 1132.62 L1056.89 1131.91 L1061.51 1131.21 L1066.12 1130.54 L1070.73 1129.9 L1075.35 1129.27 L1079.96 1128.66 L1084.57 1128.07 L1089.19 1127.51 L1093.8 1126.96 L1098.41 1126.43 L1103.03 1125.92 L1107.64 1125.42 L1112.25 1124.94 L1116.87 1124.48 L1121.48 1124.03 L1126.09 1123.6 L1130.71 1123.18 L1135.32 1122.78 L1139.93 1122.39 L1144.55 1122.01 L1149.16 1121.64 L1153.77 1121.29 L1158.39 1120.95 L1163 1120.62 L1167.61 1120.3 L1172.23 1120 L1176.84 1119.7 L1181.45 1119.41 L1186.06 1119.13 L1190.68 1118.87 L1195.29 1118.61 L1199.9 1118.36 L1204.52 1118.12 L1209.13 1117.88 L1213.74 1117.66 L1218.36 1117.44 L1222.97 1117.23 L1227.58 1117.03 L1232.2 1116.83 L1236.81 1116.64 L1241.42 1116.46 L1246.04 1116.28 L1250.65 1116.11 L1255.26 1115.94 L1259.88 1115.79 L1264.49 1115.63 L1269.1 1115.48 L1273.72 1115.34 L1278.33 1115.2 L1282.94 1115.07 L1287.56 1114.94 L1292.17 1114.81 L1296.78 1114.69 L1301.4 1114.58 L1306.01 1114.46 L1310.62 1114.35 L1315.24 1114.25 L1319.85 1114.15 L1324.46 1114.05 L1329.08 1113.96 L1333.69 1113.86 L1338.3 1113.78 L1342.92 1113.69 L1347.53 1113.61 L1352.14 1113.53 L1356.76 1113.45 L1361.37 1113.38 L1365.98 1113.31 L1370.6 1113.24 L1375.21 1113.17 L1379.82 1113.11 L1384.43 1113.05 L1389.05 1112.99 L1393.66 1112.93 L1398.27 1112.87 L1402.89 1112.82 L1407.5 1112.77 L1412.11 1112.72 L1416.73 1112.67 L1421.34 1112.62 L1425.95 1112.57 L1430.57 1112.53 L1435.18 1112.49 L1439.79 1112.45 L1444.41 1112.41 L1449.02 1112.37 L1453.63 1112.33 L1458.25 1112.3 L1462.86 1112.26 L1467.47 1112.23 L1472.09 1112.2 L1476.7 1112.17 L1481.31 1112.14 L1485.93 1112.11 L1490.54 1112.08 L1495.15 1112.06 L1499.77 1112.03 L1504.38 1112 L1508.99 1111.98 L1513.61 1111.96 L1518.22 1111.93 L1522.83 1111.91 L1527.45 1111.89 L1532.06 1111.87 L1536.67 1111.85 L1541.29 1111.83 L1545.9 1111.82 L1550.51 1111.8 L1555.13 1111.78 L1559.74 1111.76 L1564.35 1111.75 L1568.96 1111.73 L1573.58 1111.72 L1578.19 1111.7 L1582.8 1111.69 L1587.42 1111.68 L1592.03 1111.66 L1596.64 1111.65 L1601.26 1111.64 L1605.87 1111.63 L1610.48 1111.62 L1615.1 1111.61 L1619.71 1111.6 L1624.32 1111.59 L1628.94 1111.58 L1633.55 1111.57 L1638.16 1111.56 L1642.78 1111.55 L1647.39 1111.54 L1652 1111.53 L1656.62 1111.53 L1661.23 1111.52 L1665.84 1111.51 L1670.46 1111.5 L1675.07 1111.5 L1679.68 1111.49 L1684.3 1111.48 L1688.91 1111.48 L1693.52 1111.47 L1698.14 1111.47 L1702.75 1111.46 L1707.36 1111.46 L1711.98 1111.45 L1716.59 1111.45 L1721.2 1111.44 L1725.82 1111.44 L1730.43 1111.43 L1735.04 1111.43 L1739.66 1111.42 L1744.27 1111.42 L1748.88 1111.42 L1753.49 1111.41 L1758.11 1111.41 L1762.72 1111.4 L1767.33 1111.4 L1771.95 1111.4 L1776.56 1111.39 L1781.17 1111.39 L1785.79 1111.39 L1790.4 1111.39 L1795.01 1111.38 L1799.63 1111.38 L1804.24 1111.38 L1808.85 1111.38 L1813.47 1111.37 L1818.08 1111.37 L1822.69 1111.37 L1827.31 1111.37 L1831.92 1111.36 L1836.53 1111.36 L1841.15 1111.36 L1845.76 1111.36 L1850.37 1111.36 L1854.99 1111.36 L1859.6 1111.35 L1864.21 1111.35 L1868.83 1111.35 L1873.44 1111.35 L1878.05 1111.35 L1882.67 1111.35 L1887.28 1111.34 L1891.89 1111.34 L1896.51 1111.34 L1901.12 1111.34 L1905.73 1111.34 L1910.35 1111.34 L1914.96 1111.34 L1919.57 1111.34 L1924.19 1111.34 L1928.8 1111.33 L1933.41 1111.33 L1938.02 1111.33 L1942.64 1111.33 L1947.25 1111.33 L1951.86 1111.33 L1956.48 1111.33 L1961.09 1111.33 L1965.7 1111.33 L1970.32 1111.33 L1974.93 1111.33 L1979.54 1111.33 L1984.16 1111.33 L1988.77 1111.32 L1993.38 1111.32 L1998 1111.32 L2002.61 1111.32 L2007.22 1111.32 L2011.84 1111.32 L2016.45 1111.32 L2021.06 1111.32 L2025.68 1111.32 L2030.29 1111.32 L2034.9 1111.32 L2039.52 1111.32 L2044.13 1111.32 L2048.74 1111.32 L2053.36 1111.32 L2057.97 1111.32 L2062.58 1111.32 L2067.2 1111.32 L2071.81 1111.32 L2076.42 1111.32 L2081.04 1111.32 L2085.65 1111.32 L2090.26 1111.32 L2094.88 1111.31 L2099.49 1111.31 L2104.1 1111.31 L2108.72 1111.31" fill="none" stroke="#0000ff" stroke-width="5" stroke-linejoin="round" stroke-linecap="butt"/>
</g>
<rect x="1326.7" y="1361" width="31.6" height="31.6" rx="1.8" fill="#ff8000"/>
<circle cx="1342.5" cy="1457.2" r="17.5" fill="#000099"/>
<polygon points="1342.5,1515.7 1361.55,1549 1323.45,1549" fill="#ff0000" stroke="#ff0000" stroke-width="3.6" stroke-linejoin="round"/>
<rect x="1326.7" y="1602.4" width="31.6" height="31.6" rx="1.8" fill="#008000"/>
</svg>
</body></html>
